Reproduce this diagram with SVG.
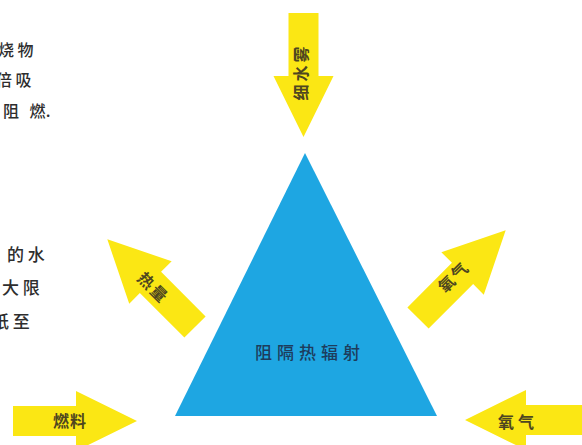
<svg xmlns="http://www.w3.org/2000/svg" width="582" height="445" viewBox="0 0 582 445">
<style>
.arrow{fill:#fbe714;}
.al{font-family:"Noto Sans CJK SC","Noto Sans",sans-serif;font-size:16px;fill:#4e4620;text-anchor:middle;dominant-baseline:central;font-weight:bold;}
.side{font-family:"Noto Sans CJK SC","Noto Sans",sans-serif;fill:#2e2e2e;font-weight:500;}
.tri{fill:#1ea6e2;}
.tt{font-family:"Noto Sans CJK SC","Noto Sans",sans-serif;font-size:17px;fill:#1d3c5c;text-anchor:middle;dominant-baseline:central;letter-spacing:5px;font-weight:500;}
</style>
<defs>
<path id="arr" d="M0,-15 L63,-15 L63,-30 L124,0 L63,30 L63,15 L0,15 Z"/>
</defs>
<rect width="582" height="445" fill="#ffffff"/>
<g id="sidetext" class="side">
<text x="-2" y="56" font-size="16">烧 物</text>
<text x="-4" y="86" font-size="16">倍 吸</text>
<text x="3" y="117" font-size="16">阻 <tspan dx="7">燃</tspan>.</text>
<text x="7" y="261" font-size="17">的 水</text>
<text x="2" y="294" font-size="17">大 限</text>
<text x="-8" y="328" font-size="17">纸 至</text>
</g>
<g id="connectors">
<g id="arrow-water"><use href="#arr" class="arrow" transform="translate(303.5,13) rotate(90)"/><text class="al" transform="translate(300,72) rotate(-90)" letter-spacing="3">细水雾</text></g>
<g id="arrow-heat"><use href="#arr" class="arrow" transform="translate(195,327) rotate(-135)"/><text class="al" transform="translate(154,287) rotate(45)" letter-spacing="2">热量</text></g>
<g id="arrow-oxygen1"><use href="#arr" class="arrow" transform="translate(418,318) rotate(-45)"/><text class="al" transform="translate(453,276) rotate(-45)" letter-spacing="2">氧气</text></g>
<g id="arrow-fuel"><use href="#arr" class="arrow" transform="translate(13,421)"/><text class="al" x="70" y="420" letter-spacing="1">燃料</text></g>
<g id="arrow-oxygen2"><use href="#arr" class="arrow" transform="translate(589,420) rotate(180)"/><text class="al" x="518" y="421" letter-spacing="4">氧气</text></g>
</g>
<g id="triangle">
<polygon class="tri" points="305,153 437,416 175,416"/>
<text class="tt" x="310" y="351">阻隔热辐射</text>
</g>
</svg>
